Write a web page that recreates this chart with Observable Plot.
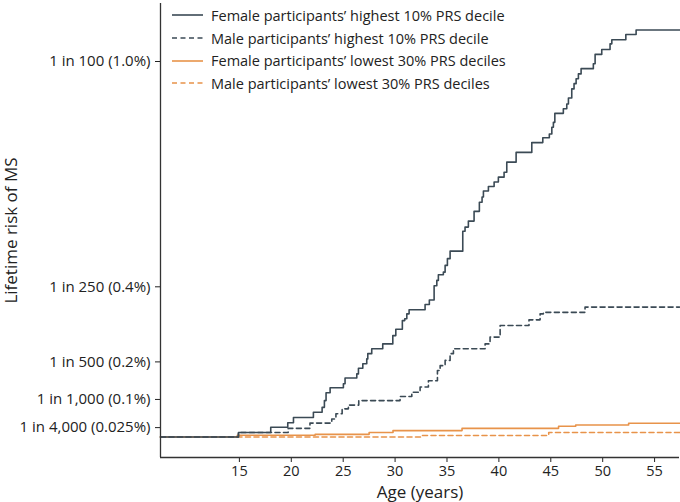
<!DOCTYPE html>
<html>
<head>
<meta charset="utf-8">
<script src="https://cdn.jsdelivr.net/npm/d3@7"></script>
<script src="https://cdn.jsdelivr.net/npm/@observablehq/plot@0.6"></script>
<style>
  html, body { margin: 0; padding: 0; background: #fff; }
  #wrap { position: relative; width: 680px; height: 502px; font-family: "Open Sans", sans-serif; }
  #legend { position: absolute; left: 172px; top: 4px; }
  .row { display: flex; align-items: center; height: 22.7px; }
  .row span { margin-left: 8px; font-size: 14.5px; color: #222; white-space: nowrap; }
</style>
</head>
<body>
<div id="wrap"><div id="chart"></div><div id="legend"></div></div>
<script>
// ---- data (age in years, lifetime risk in %) ----
const seriesNames = [
  "Female participants\u2019 highest 10% PRS decile",
  "Male participants\u2019 highest 10% PRS decile",
  "Female participants\u2019 lowest 30% PRS deciles",
  "Male participants\u2019 lowest 30% PRS deciles"
];
const seriesColors = ["#3b4a55", "#3b4a55", "#e8934a", "#e8934a"];
const seriesDashed = [false, true, false, true];

const femaleHighAge = [14.91, 18.02, 19.66, 20.21, 22.13, 22.97, 23.19, 23.35, 23.74, 25.02, 25.18, 26.31, 26.47, 26.89, 27.27, 27.37, 27.75, 28.81, 29.78, 30.07, 30.70, 30.93, 31.13, 31.35, 32.89, 33.30, 33.76, 34.02, 34.17, 34.65, 34.82, 35.04, 35.30, 36.52, 36.74, 37.06, 37.61, 38.12, 38.38, 38.51, 38.99, 39.54, 39.95, 40.50, 40.76, 41.66, 43.17, 44.23, 44.86, 45.10, 45.25, 45.39, 46.21, 46.54, 46.70, 47.02, 47.24, 47.44, 47.66, 47.92, 49.10, 49.27, 49.91, 50.71, 50.88, 52.23, 53.22];
const femaleHighRisk = [0.012, 0.026, 0.038, 0.052, 0.066, 0.079, 0.097, 0.118, 0.131, 0.142, 0.157, 0.168, 0.183, 0.195, 0.208, 0.222, 0.235, 0.248, 0.270, 0.287, 0.310, 0.315, 0.328, 0.339, 0.353, 0.365, 0.403, 0.417, 0.432, 0.439, 0.457, 0.475, 0.495, 0.548, 0.559, 0.575, 0.601, 0.625, 0.639, 0.655, 0.667, 0.679, 0.692, 0.705, 0.732, 0.758, 0.784, 0.797, 0.807, 0.825, 0.838, 0.862, 0.874, 0.887, 0.903, 0.927, 0.941, 0.954, 0.967, 0.981, 0.994, 1.019, 1.032, 1.047, 1.058, 1.072, 1.084];

const maleHighAge = [14.91, 19.7, 21.8, 23.9, 24.3, 24.9, 25.5, 26.5, 30.48, 31.61, 32.41, 33.21, 34.08, 34.34, 34.82, 35.30, 35.62, 38.67, 39.15, 40.12, 42.9, 43.97, 44.29, 48.3];
const maleHighRisk = [0.012, 0.023, 0.037, 0.048, 0.062, 0.075, 0.085, 0.097, 0.108, 0.119, 0.133, 0.150, 0.177, 0.190, 0.204, 0.222, 0.235, 0.248, 0.266, 0.297, 0.312, 0.328, 0.332, 0.346];

const femaleLowAge = [14.8, 22.3, 27.5, 29.8, 36.45, 45.75, 47.4, 52.5];
const femaleLowRisk = [0.0045, 0.007, 0.012, 0.017, 0.023, 0.0285, 0.032, 0.0365];

const maleLowAge = [32.5, 44.8];
const maleLowRisk = [0.004, 0.012];

const xTicks = [15, 20, 25, 30, 35, 40, 45, 50, 55];
const yTickValues = [1.0, 0.4, 0.2, 0.1, 0.025];
const yTickLabels = ["1 in 100 (1.0%)", "1 in 250 (0.4%)", "1 in 500 (0.2%)", "1 in 1,000 (0.1%)", "1 in 4,000 (0.025%)"];

const xDomain = [7.4, 57.4];
const yDomain = [-0.0546, 1.1545];

// ---- build step tables ----
function steps(name, ages, risks) {
  const rows = [{series: name, age: xDomain[0], risk: 0}];
  ages.forEach((a, i) => rows.push({series: name, age: a, risk: risks[i]}));
  rows.push({series: name, age: xDomain[1], risk: risks[risks.length - 1]});
  return rows;
}
const allSeries = [
  steps(seriesNames[0], femaleHighAge, femaleHighRisk),
  steps(seriesNames[1], maleHighAge, maleHighRisk),
  steps(seriesNames[2], femaleLowAge, femaleLowRisk),
  steps(seriesNames[3], maleLowAge, maleLowRisk)
];
const drawOrder = [3, 2, 1, 0];
const dash = "5,3.5";

const chart = Plot.plot({
  width: 680,
  height: 502,
  marginTop: 3,
  marginBottom: 45,
  marginLeft: 160,
  marginRight: 1,
  style: {fontFamily: "Open Sans, sans-serif", fontSize: "15px", color: "#222", background: "#fff"},
  x: {domain: xDomain},
  y: {domain: yDomain},
  marks: [
    Plot.axisX({ticks: xTicks, tickSize: 5, tickPadding: 3, fontSize: 14.5,
      label: "Age (years)", labelAnchor: "center", labelOffset: 40, labelArrow: "none"}),
    Plot.axisY({ticks: yTickValues, tickSize: 5, tickPadding: 5, fontSize: 15,
      tickFormat: (d) => yTickLabels[yTickValues.indexOf(d)],
      label: "Lifetime risk of MS", labelAnchor: "center", labelOffset: 156, labelArrow: "none"}),
    ...drawOrder.map(i => Plot.line(allSeries[i], {
      x: "age", y: "risk", curve: "step-after",
      stroke: seriesColors[i], strokeWidth: 1.6,
      strokeDasharray: seriesDashed[i] ? dash : null
    })),
    Plot.ruleX([xDomain[0]], {stroke: "#333", strokeWidth: 1.3}),
    Plot.ruleY([yDomain[0]], {stroke: "#333", strokeWidth: 1.3})
  ]
});
document.getElementById("chart").appendChild(chart);

// axis title size
chart.querySelectorAll("g[aria-label='x-axis label'] text, g[aria-label='y-axis label'] text").forEach(t => {
  t.style.fontSize = "17px";
});

// ---- legend ----
const legend = d3.select("#legend");
seriesNames.forEach((name, i) => {
  const row = legend.append("div").attr("class", "row");
  const svg = row.append("svg").attr("width", 31).attr("height", 6);
  svg.append("line").attr("x1", 0).attr("x2", 31).attr("y1", 3).attr("y2", 3)
    .attr("stroke", seriesColors[i]).attr("stroke-width", 1.6)
    .attr("stroke-dasharray", seriesDashed[i] ? dash : null);
  row.append("span").text(name);
});
</script>
</body>
</html>
